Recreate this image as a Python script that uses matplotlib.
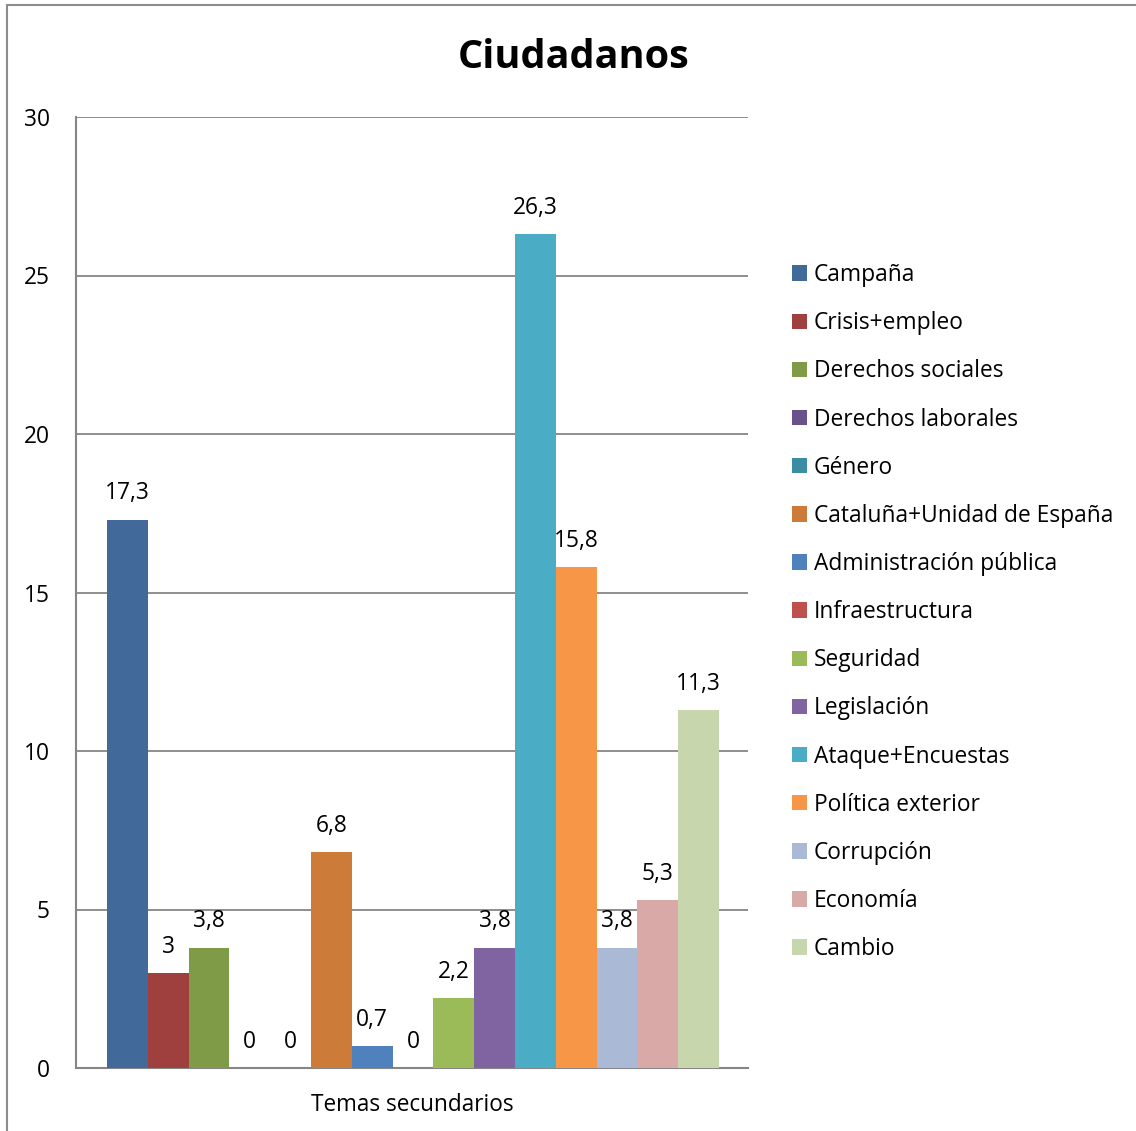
import matplotlib
matplotlib.use("Agg")
import matplotlib.pyplot as plt
from matplotlib.patches import Patch, Rectangle

plt.rcParams['font.family'] = ['Open Sans', 'DejaVu Sans']

temas = ["Campaña", "Crisis+empleo", "Derechos sociales", "Derechos laborales",
         "Género", "Cataluña+Unidad de España", "Administración pública",
         "Infraestructura", "Seguridad", "Legislación", "Ataque+Encuestas",
         "Política exterior", "Corrupción", "Economía", "Cambio"]
valores = [17.3, 3, 3.8, 0, 0, 6.8, 0.7, 0, 2.2, 3.8, 26.3, 15.8, 3.8, 5.3, 11.3]
colores = ["#416a9b", "#a0403e", "#7f9b48", "#69528a", "#3c8da3", "#cc7b38",
           "#4f81bd", "#c0504d", "#9bbb59", "#8064a2", "#4bacc6", "#f79646",
           "#aab9d6", "#d9a9a8", "#c8d6ae"]
yticks = [0, 5, 10, 15, 20, 25, 30]

fig = plt.figure(figsize=(11.36, 11.31), dpi=100)
# outer chart border
fig.patches.append(Rectangle((7/1136, -0.01), 1.2, 1 - 5/1131 + 0.01, transform=fig.transFigure,
                             fill=False, edgecolor="#8c8c8c", linewidth=1.5))

ax = fig.add_axes([76/1136, 1 - 1068/1131, 672/1136, (1068 - 117)/1131])
x = list(range(len(valores)))
bars = ax.bar(x, valores, width=1.0, color=colores, zorder=3)

for xi, v in zip(x, valores):
    txt = ("%g" % v).replace(".", ",")
    ax.text(xi, v + 0.45, txt, ha="center", va="bottom", fontsize=16.4, zorder=4)

ax.set_xlim(-1.26, 15.21)
ax.set_ylim(0, 30)
ax.set_yticks(yticks)
ax.set_yticklabels([str(t) for t in yticks], fontsize=16.4)
ax.tick_params(axis="y", length=0, pad=19)
ax.set_xticks([])
ax.yaxis.grid(True, color="#868686", linewidth=1.3, zorder=0)
for s in ["top", "right"]:
    ax.spines[s].set_visible(False)
for s in ["left", "bottom"]:
    ax.spines[s].set_color("#868686")
    ax.spines[s].set_linewidth(1.5)
ax.set_xlabel("Temas secundarios", fontsize=16.3, labelpad=18)

fig.text(574/1136, 1 - 57/1131, "Ciudadanos", ha="center", va="center",
         fontsize=28.5, fontweight="bold")

handles = [Patch(facecolor=c, label=t) for c, t in zip(colores, temas)]
fig.legend(handles=handles, loc="upper left", bbox_to_anchor=(783/1136, 1 - 254/1131),
           frameon=False, fontsize=16.4, handlelength=0.66, handleheight=0.66,
           handletextpad=0.3, labelspacing=1.06, borderaxespad=0)

fig.savefig("out.png", dpi=100)
